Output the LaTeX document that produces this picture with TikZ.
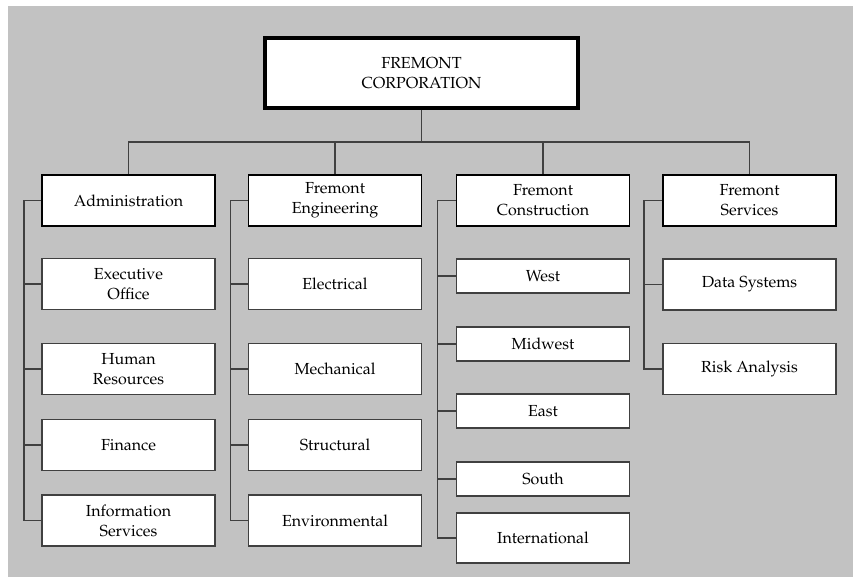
\documentclass[tikz,border=0pt]{standalone}
\usepackage[T1]{fontenc}
\usepackage{mathpazo}
\usepackage{tikz}

\begin{document}
\begin{tikzpicture}[x=1pt,y=-1pt]
\tikzstyle{every node}+=[inner sep=0pt, align=center, font=\fontsize{16}{20}\selectfont]
\tikzstyle{corp box}=[draw=black, fill=white, line width=4pt, minimum width=313pt, minimum height=70pt]
\tikzstyle{div box}=[draw=black, fill=white, line width=1.8pt, minimum width=173pt, minimum height=51pt]
\tikzstyle{unit box}=[draw=black!75, fill=white, line width=1.3pt, minimum width=173pt, minimum height=51pt]
\tikzstyle{small box}=[unit box, minimum height=34pt]
\tikzstyle{link}=[draw=black!75, line width=1.3pt]
\useasboundingbox (0,0) rectangle (855,577);
\fill [white] (0,0) rectangle (855,577);
\fill [black!24] (8,6) rectangle (853,577);
% top
\node [corp box] (corp) at (421.5,73) {FREMONT\\CORPORATION};
% divisions
\node [div box] (adm) at (128.5,200.5) {Administration};
\node [div box] (eng) at (335,200.5) {Fremont\\Engineering};
\node [div box] (con) at (543,200.5) {Fremont\\Construction};
\node [div box] (srv) at (749.5,200.5) {Fremont\\Services};
% administration
\node [unit box] (exec) at (128.5,284) {Executive\\Office};
\node [unit box] (hr) at (128.5,369) {Human\\Resources};
\node [unit box] (fin) at (128.5,445) {Finance};
\node [unit box] (info) at (128.5,520.5) {Information\\Services};
% engineering
\node [unit box] (elec) at (335,284) {Electrical};
\node [unit box] (mech) at (335,369) {Mechanical};
\node [unit box] (struc) at (335,445) {Structural};
\node [unit box] (envir) at (335,520.5) {Environmental};
% construction
\node [small box] (west) at (543,276) {West};
\node [small box] (midw) at (543,344) {Midwest};
\node [small box] (east) at (543,411) {East};
\node [small box] (south) at (543,479) {South};
\node [unit box, minimum height=50pt] (intl) at (543,538) {International};
% services
\node [unit box] (data) at (749.5,284.5) {Data Systems};
\node [unit box] (risk) at (749.5,369) {Risk Analysis};
% links
\draw [link] (corp.south) -- ++(0,32) coordinate (bus);
\foreach \d in {adm,eng,con,srv}
  \draw [link] (bus) -| (\d.north);
\foreach \c in {exec,hr,fin,info}
  \draw [link] (adm.west) -- ++(-17,0) |- (\c.west);
\foreach \c in {elec,mech,struc,envir}
  \draw [link] (eng.west) -- ++(-17,0) |- (\c.west);
\foreach \c in {west,midw,east,south,intl}
  \draw [link] (con.west) -- ++(-18,0) |- (\c.west);
\foreach \c in {data,risk}
  \draw [link] (srv.west) -- ++(-18,0) |- (\c.west);
\end{tikzpicture}
\end{document}
